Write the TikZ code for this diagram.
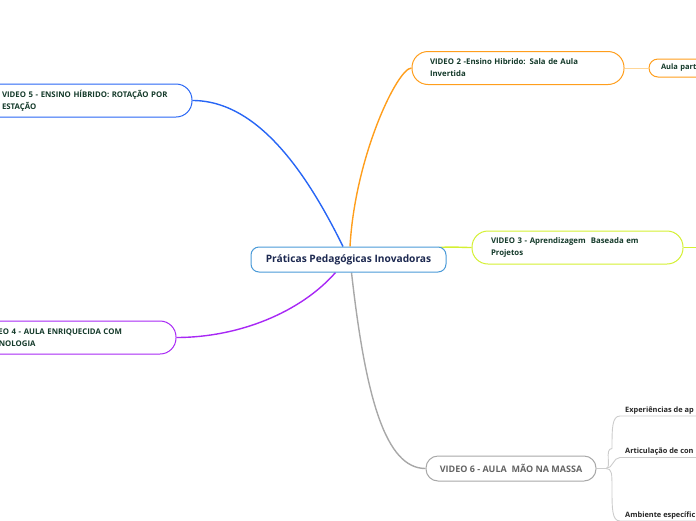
\documentclass[tikz,border=0pt]{standalone}
\usepackage{fontspec}
\setmainfont{Open Sans}
\usetikzlibrary{backgrounds}
\definecolor{txtgreen}{RGB}{20,58,42}
\definecolor{navy}{RGB}{28,40,80}
\definecolor{cblue}{RGB}{40,102,245}
\definecolor{corange}{RGB}{255,158,28}
\definecolor{clorange}{RGB}{255,214,150}
\definecolor{cyg}{RGB}{212,240,50}
\definecolor{cpurple}{RGB}{168,40,245}
\definecolor{cgray}{RGB}{168,168,168}
\definecolor{cltgray}{RGB}{204,204,204}
\definecolor{ccentral}{RGB}{74,154,216}
\definecolor{vsixtext}{RGB}{100,100,100}
\tikzset{
  topic/.style={draw, fill=white, line width=1pt, rounded corners=16pt,
    minimum height=33pt, inner ysep=0pt, align=left, text=txtgreen,
    font=\bfseries\fontsize{7.8}{12}\selectfont},
  central/.style={draw=ccentral, fill=white, line width=1pt, rounded corners=8pt,
    minimum width=195pt, minimum height=25pt, inner sep=0pt, text=navy,
    font=\bfseries\fontsize{10.2}{12}\selectfont},
  vsix/.style={draw=cgray, fill=white, line width=1pt, rounded corners=12pt,
    minimum width=170pt, minimum height=25pt, inner sep=0pt, text=vsixtext,
    font=\bfseries\fontsize{9}{11}\selectfont},
  aula/.style={draw=corange, fill=white, line width=1pt, rounded corners=9pt,
    minimum height=18pt, inner ysep=0pt, inner xsep=12pt, text width=80pt,
    align=left, text=txtgreen, font=\bfseries\fontsize{7.5}{9}\selectfont},
  sub/.style={anchor=south west, inner xsep=5pt, inner ysep=2pt, text=black!85,
    font=\bfseries\fontsize{7.4}{9}\selectfont},
  mainlink/.style={line width=1.4pt},
  sublink/.style={draw=cltgray, line width=0.9pt},
}
\begin{document}
\begin{tikzpicture}[x=1pt,y=-1pt]
\useasboundingbox (0,0) rectangle (696,520);
\coordinate (edge) at (700,0);
% nodes
\node[central] (c) at (348.5,259.5) {Práticas Pedagógicas Inovadoras};
\node[topic, draw=cblue, text width=170pt, inner xsep=20pt] (v5) at (87,100.5)
  {VIDEO 5 - ENSINO HÍBRIDO: ROTAÇÃO POR\\ESTAÇÃO};
\node[topic, draw=cpurple, text width=171pt, inner xsep=20pt] (v4) at (70.5,337.5)
  {VIDEO 4 - AULA ENRIQUECIDA COM\\TECNOLOGIA};
\node[topic, draw=corange, text width=176pt, inner xsep=18pt] (v2) at (518,68)
  {VIDEO 2 -Ensino Hibrido: Sala de Aula\\Invertida};
\node[aula] (v2a) at (701,68) {Aula part};
\node[topic, draw=cyg, text width=173pt, inner xsep=19pt] (v3) at (577.5,247.5)
  {VIDEO 3 - Aprendizagem\ \ Baseada em\\Projetos};
\node[vsix] (v6) at (511,468.5) {VIDEO 6 - AULA\ \ MÃO NA MASSA};
\node[sub] (s1) at (620,416) {Experiências de ap};
\node[sub] (s2) at (620,457.5) {Articulação de con};
\node[sub] (s3) at (620,521) {Ambiente específic};
\coordinate (j) at (606,468.5);
% connectors
\begin{scope}[on background layer]
\draw[mainlink, cblue] (v5.east) .. controls +(68,0) and +(-33,-67) .. ([xshift=-5.5pt]c.north);
\draw[mainlink, corange] ([xshift=1.5pt]c.north) .. controls +(5,-90) and +(-14,0) .. (v2.west);
\draw[mainlink, cyg] ([xshift=52pt]c.center) .. controls +(30,-16) and +(-20,0) .. (v3.west);
\draw[mainlink, cpurple] (v4.east) .. controls +(62,0) and +(-35,40) .. ([xshift=-13pt]c.south);
\draw[mainlink, cgray] ([xshift=3pt]c.south) .. controls +(14,125) and +(-40,0) .. (v6.west);
\end{scope}
\draw[line width=1pt, clorange] (v2.east) -- (v2a.west);
\draw[line width=1.2pt, cyg] (v3.east) -- (v3.east -| edge);
\draw[sublink] (v6.east) -- (j);
\draw[sublink] (j) .. controls +(6,0) and +(-8,0) .. ++(6,-20) .. controls +(0,-20) and +(-8,0) .. (s1.south west) -- (s1.south west -| edge);
\draw[sublink] (j) .. controls +(7,0) and +(-7,0) .. (s2.south west) -- (s2.south west -| edge);
\draw[sublink] (j) .. controls +(6,0) and +(0,-15) .. ++(6,20) .. controls +(0,20) and +(-8,0) .. (s3.south west) -- (s3.south west -| edge);
\end{tikzpicture}
\end{document}
